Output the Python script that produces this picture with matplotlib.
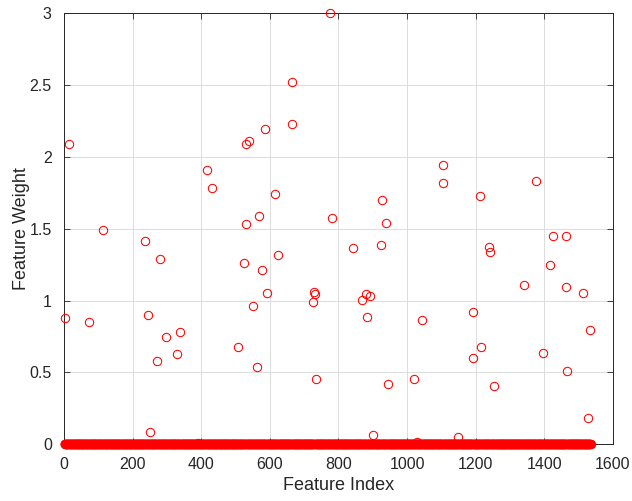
import numpy as np
import matplotlib
matplotlib.use("Agg")
import matplotlib.pyplot as plt

plt.rcParams["font.family"] = ["Liberation Sans", "DejaVu Sans"]

N_FEATURES = 1536

# non-zero feature weights: (index, weight)
nz_index = [1, 15, 72, 114, 235, 243, 251, 271, 279, 298, 330, 337, 390, 415, 430,
            508, 525, 529, 530, 540, 551, 563, 567, 576, 585, 590, 615, 624, 664, 665,
            726, 728, 730, 734, 775, 782, 843, 869, 880, 882, 892, 900, 924, 928, 938,
            945, 1020, 1030, 1045, 1105, 1106, 1150, 1191, 1192, 1212, 1216, 1239, 1243,
            1254, 1341, 1376, 1397, 1417, 1427, 1463, 1464, 1466, 1512, 1529, 1534]
nz_weight = [0.877, 2.09, 0.851, 1.49, 1.417, 0.90, 0.086, 0.582, 1.292, 0.747, 0.628,
             0.784, 0.01, 1.91, 1.786, 0.68, 1.26, 2.09, 1.533, 2.11, 0.96, 0.536, 1.589,
             1.21, 2.195, 1.055, 1.742, 1.315, 2.52, 2.227, 0.99, 1.06, 1.045, 0.455, 3.0,
             1.573, 1.366, 1.002, 1.048, 0.886, 1.035, 0.067, 1.388, 1.698, 1.538, 0.422,
             0.457, 0.015, 0.863, 1.944, 1.817, 0.049, 0.603, 0.921, 1.73, 0.675, 1.376,
             1.338, 0.404, 1.107, 1.83, 0.633, 1.246, 1.452, 1.452, 1.097, 0.508, 1.055,
             0.181, 0.798]

x_ticks = [0, 200, 400, 600, 800, 1000, 1200, 1400, 1600]
y_ticks = [0, 0.5, 1, 1.5, 2, 2.5, 3]
y_tick_labels = ["0", "0.5", "1", "1.5", "2", "2.5", "3"]

idx = np.arange(1, N_FEATURES + 1)
weight = np.zeros(N_FEATURES)
weight[np.array(nz_index) - 1] = nz_weight
zero = weight == 0

fig = plt.figure(figsize=(6.32, 5.01), dpi=100)
ax = fig.add_axes([0.1017, 0.1132, 0.8678, 0.8603])

# the ~1460 zero weights overlap so densely they read as one solid band
ax.plot(idx[zero], weight[zero], "-o", color="red", lw=6.6, mfc="red", mec="red",
        ms=6, mew=0.75, solid_capstyle="round", clip_on=False, zorder=3)
ax.plot(idx[~zero], weight[~zero], "o", mfc="none", mec="red", ms=6, mew=0.75,
        clip_on=False, zorder=4)

ax.set_xlim(0, 1600)
ax.set_ylim(0, 3)
ax.set_xticks(x_ticks)
ax.set_yticks(y_ticks)
ax.set_yticklabels(y_tick_labels)
ax.grid(True, color="#dcdcdc", linewidth=0.7)
ax.set_axisbelow(True)

edge = "#262626"
for s in ax.spines.values():
    s.set_color(edge)
    s.set_linewidth(0.7)
ax.tick_params(direction="in", top=True, right=True, length=4, width=0.6,
               color=edge, labelsize=11.5, labelcolor=edge)
ax.tick_params(axis="x", pad=9)
ax.tick_params(axis="y", pad=9)

ax.set_xlabel("Feature Index", fontsize=13, color=edge, labelpad=4)
ax.set_ylabel("Feature Weight", fontsize=13, color=edge, labelpad=0)

fig.savefig("out.png", dpi=100)
